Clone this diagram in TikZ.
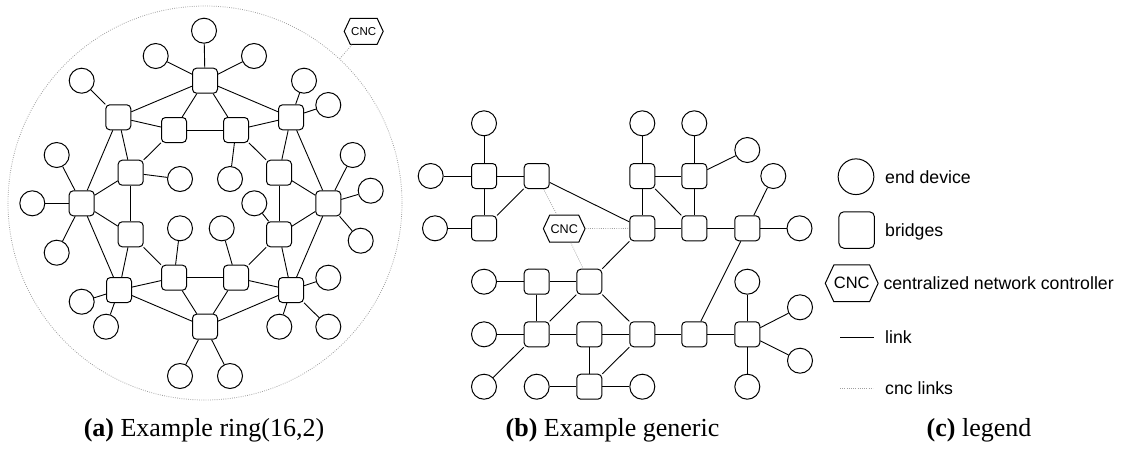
\documentclass[tikz,border=0pt]{standalone}
\usepackage{fontspec}
\setmainfont{Liberation Serif}
\newfontfamily\sansf{Liberation Sans}
\usetikzlibrary{shapes.symbols}

\begin{document}
\begin{tikzpicture}[x=1pt,y=-1pt,
  dev/.style={circle,draw,line width=1pt,minimum size=25pt,inner sep=0pt},
  brg/.style={rectangle,rounded corners=4pt,draw,line width=1pt,minimum size=25pt,inner sep=0pt},
  big/.style={minimum size=26.5pt},
  cnc/.style={signal,signal to=east and west,signal pointer angle=130,draw,
    line width=1pt,inner sep=0pt,font=\sansf},
  link/.style={line width=0.9pt},
  cncl/.style={draw=gray!75,line width=0.8pt,dash pattern=on 0.8pt off 1.4pt},
  lgtext/.style={anchor=base west,inner sep=0pt,font=\sansf\fontsize{17.7}{21}\selectfont},
  capt/.style={anchor=base,inner sep=0pt,font=\fontsize{26}{30}\selectfont}]
\useasboundingbox (0,0) rectangle (1123,448);

% ---------- ring(16,2) ----------
\draw[cncl] (205,203) circle (197);
\node[cnc,minimum width=39pt,minimum height=26pt,font=\sansf\fontsize{11.5}{13}\selectfont]
  (cncA) at (363.7,31.3) {CNC};
\coordinate (ringtap) at (339.5,59);
\draw[cncl] (cncA) -- (ringtap);

% outer bridges
\node[brg] (r0) at (205,80.7) {};
\node[brg] (r1) at (291,117.3) {};
\node[brg] (r2) at (328.3,203.3) {};
\node[brg] (r3) at (291,290) {};
\node[brg] (r4) at (205,326.7) {};
\node[brg] (r5) at (119,290) {};
\node[brg] (r6) at (81.7,203.3) {};
\node[brg] (r7) at (118.3,117.3) {};
% inner bridges
\node[brg] (i0) at (174,130) {};
\node[brg] (i1) at (236,130) {};
\node[brg] (i2) at (279,172.7) {};
\node[brg] (i3) at (279,234.3) {};
\node[brg] (i4) at (236,277.7) {};
\node[brg] (i5) at (174,277.7) {};
\node[brg] (i6) at (130.7,234.3) {};
\node[brg] (i7) at (130.7,172.7) {};
% end devices
\node[dev] (e01) at (204,30.7) {};
\node[dev] (e02) at (155.7,56) {};
\node[dev] (e03) at (254,56) {};
\node[dev] (e71) at (81.7,80.7) {};
\node[dev] (e11) at (304,80.7) {};
\node[dev] (e12) at (328.3,105) {};
\node[dev] (e61) at (56.7,155) {};
\node[dev] (e62) at (32.3,203.3) {};
\node[dev] (e63) at (56.7,252.7) {};
\node[dev] (e21) at (352.7,155) {};
\node[dev] (e22) at (370.7,190.7) {};
\node[dev] (e23) at (360.7,240.7) {};
\node[dev] (e51) at (81.7,301.7) {};
\node[dev] (e52) at (106,326.7) {};
\node[dev] (e31) at (328.3,277.7) {};
\node[dev] (e32) at (279.3,326.7) {};
\node[dev] (e33) at (328.3,326.7) {};
\node[dev] (e41) at (180,376) {};
\node[dev] (e42) at (230,376) {};
\node[dev] (f7) at (180,179) {};
\node[dev] (f1) at (230,179) {};
\node[dev] (f3) at (254.3,203.3) {};
\node[dev] (f5) at (180,228.3) {};
\node[dev] (f4) at (221.7,228.3) {};

\foreach \a/\b in {r0/r1,r1/r2,r2/r3,r3/r4,r4/r5,r5/r6,r6/r7,r7/r0,
  i0/i1,i1/i2,i2/i3,i3/i4,i4/i5,i5/i6,i6/i7,i7/i0,
  r0/i0,r0/i1,r7/i0,r7/i7,r1/i1,r1/i2,r2/i2,r2/i3,
  r3/i3,r3/i4,r4/i4,r4/i5,r5/i5,r5/i6,r6/i6,r6/i7,
  r0/e01,r0/e02,r0/e03,r7/e71,r1/e11,r1/e12,r6/e61,r6/e62,r6/e63,
  r2/e21,r2/e22,r2/e23,r5/e51,r5/e52,r3/e31,r3/e32,r3/e33,r4/e41,r4/e42,
  i7/f7,i1/f1,i3/f3,i5/f5,i4/f4}
  \draw[link] (\a) -- (\b);

% ---------- generic ----------
\begin{scope}[every node/.append style={big}]
\node[dev] (ga) at (484,123.3) {};
\node[dev] (gb) at (430.7,176) {};
\node[brg] (gA) at (484,176) {};
\node[brg] (gB) at (536.7,176) {};
\node[dev] (gc) at (435,228.3) {};
\node[brg] (gC) at (484,228.3) {};
\node[dev] (gd) at (642.3,123.3) {};
\node[dev] (ge) at (694.3,123.3) {};
\node[dev] (gf) at (747.3,150) {};
\node[brg] (gD) at (642.3,176) {};
\node[brg] (gE) at (694.3,176) {};
\node[dev] (gg) at (773.3,176) {};
\node[brg] (gF) at (642.3,228.3) {};
\node[brg] (gG) at (694.3,228.3) {};
\node[brg] (gH) at (747.3,228.3) {};
\node[dev] (gh) at (799.5,228.3) {};
\node[dev] (gi) at (484,281.7) {};
\node[brg] (gI) at (536.7,281.7) {};
\node[brg] (gJ) at (589.3,281.7) {};
\node[dev] (gj) at (747.3,281.7) {};
\node[dev] (gk) at (484,334.3) {};
\node[brg] (gK) at (536.7,334.3) {};
\node[brg] (gL) at (589.3,334.3) {};
\node[brg] (gM) at (642.3,334.3) {};
\node[brg] (gN) at (694.3,334.3) {};
\node[brg] (gO) at (747.3,334.3) {};
\node[dev] (gl) at (800,307.3) {};
\node[dev] (gm) at (800,360.7) {};
\node[dev] (gn) at (484,386.7) {};
\node[dev] (go) at (536.7,386.7) {};
\node[brg] (gP) at (589.3,386.7) {};
\node[dev] (gp) at (642.3,386.7) {};
\node[dev] (gq) at (747.3,386.7) {};
\end{scope}
\node[cnc,minimum width=41.7pt,minimum height=27pt,font=\sansf\fontsize{12.6}{14}\selectfont]
  (gX) at (564.2,228.7) {CNC};

\foreach \a/\b in {ga/gA,gb/gA,gA/gB,gA/gC,gB/gC,gc/gC,gB/gF,gd/gD,ge/gE,gE/gf,
  gD/gE,gD/gF,gD/gG,gE/gG,gF/gG,gG/gH,gH/gh,gH/gg,gH/gN,gF/gJ,
  gi/gI,gI/gJ,gI/gK,gJ/gK,gJ/gM,gk/gK,gK/gL,gL/gM,gM/gN,gN/gO,
  gK/gn,gL/gP,gM/gP,go/gP,gP/gp,gj/gO,gO/gq,gO/gl,gO/gm}
  \draw[link] (\a) -- (\b);
\foreach \b in {gB,gF,gJ}
  \draw[cncl] (gX) -- (\b);

% ---------- legend ----------
\node[dev,minimum size=35.7pt] (lgdev) at (856,176.7) {};
\node[brg,rounded corners=5pt,minimum width=35.5pt,minimum height=36.5pt] (lgbrg) at (856.7,230) {};
\node[cnc,minimum width=52pt,minimum height=36.7pt,font=\sansf\fontsize{16.5}{19}\selectfont]
  (lgcnc) at (851.7,283.3) {CNC};
\coordinate (lgl1) at (840,337.3);
\coordinate (lgl2) at (874,337.3);
\coordinate (lgc1) at (840,388.3);
\coordinate (lgc2) at (873,388.3);
\draw[link] (lgl1) -- (lgl2);
\draw[cncl] (lgc1) -- (lgc2);
\node[lgtext] (tdev) at (885,183.3) {end device};
\node[lgtext] (tbrg) at (885,236.6) {bridges};
\node[lgtext] (tcnc) at (883.3,289.8) {centralized network controller};
\node[lgtext] (tlink) at (885,343.6) {link};
\node[lgtext] (tcncl) at (885,394.8) {cnc links};

% ---------- captions ----------
\node[capt] (capa) at (204,436.5) {\textbf{(a)} Example ring(16,2)};
\node[capt] (capb) at (612.5,436.5) {\textbf{(b)} Example generic};
\node[capt] (capc) at (979,436.5) {\textbf{(c)} legend};
\end{tikzpicture}
\end{document}
